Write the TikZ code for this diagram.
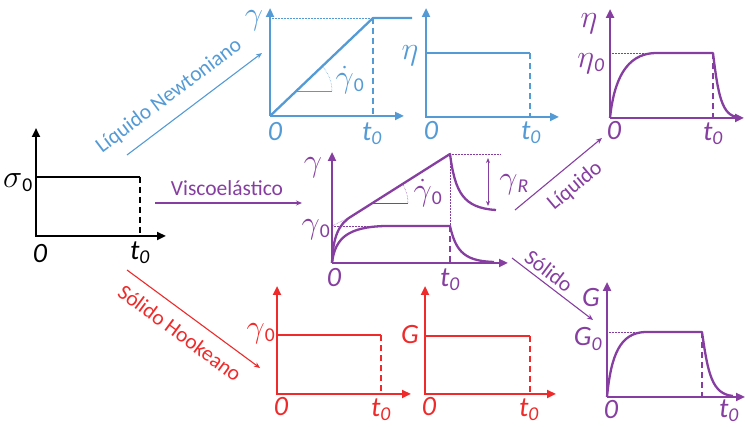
\documentclass[tikz,border=0pt]{standalone}
\usepackage{fontspec}
\setmainfont{Carlito}
\usetikzlibrary{arrows.meta}
\definecolor{cblue}{RGB}{84,155,214}
\definecolor{cpurp}{RGB}{134,62,160}
\definecolor{cred}{RGB}{238,42,42}
\tikzset{
  axis/.style={line width=2.6pt,-{Triangle[length=9pt,width=8pt]}},
  dataline/.style={line width=2.3pt,line join=round},
  dropline/.style={line width=1.6pt,dash pattern=on 6pt off 4pt},
  guide/.style={line width=0.5pt,densely dotted},
  flow/.style={line width=1.1pt,-{Stealth[length=6pt,width=5pt]}},
  lbl/.style={inner sep=0pt,font=\fontsize{28}{32}\selectfont},
  flowtxt/.style={inner sep=0pt,font=\fontsize{21.5}{25}\selectfont},
}
\newcommand{\tz}{\textit{t}\textsubscript{\textit{0}}}
\newcommand{\zr}{\textit{0}}
\newcommand{\gk}[1]{\scalebox{1.3}{$#1$}}
\begin{document}
\begin{tikzpicture}[x=1pt,y=-1pt]
\useasboundingbox (0,0) rectangle (745,427);
% ---------------- black input chart ----------------
\coordinate (bo) at (36,236);
\coordinate (by) at (36,128);
\coordinate (bx) at (166,236);
\coordinate (bs) at (36,177);
\coordinate (be) at (140,177);
\coordinate (bd) at (140,236);
\draw[axis,black] (bd) -- (bo) -- (by);
\draw[axis,black] (bo) -- (bx);
\draw[dataline,black] (bs) -- (be);
\draw[dropline,black] (be) -- (bd);
\node[lbl] (bsig) at (18,183) {\gk{\sigma}\textsubscript{0}};
\node[lbl] (bzero) at (40,254) {\zr};
\node[lbl] (bt) at (140,253) {\tz};
% ---------------- blue Newtonian gamma chart ----------------
\begin{scope}[cblue]
\coordinate (no) at (270,116);
\coordinate (ny) at (270,8);
\coordinate (nx) at (404,116);
\coordinate (nt) at (373,18);
\coordinate (ntb) at (373,116);
\coordinate (nend) at (412,18);
\coordinate (nyl) at (270,18);
\coordinate (na) at (296,91);
\draw[axis] (no) -- (ny);
\draw[axis] (no) -- (nx);
\draw[dataline] (no) -- (nt) -- (nend);
\draw[dropline] (nt) -- (ntb);
\draw[guide] (nyl) -- (nt);
\draw[line width=0.5pt] (na) -- ++(36,0) coordinate (nb);
\draw[guide] (nb) arc[start angle=0,end angle=-43.6,radius=36];
\node[lbl] (ngam) at (254,21) {\gk{\gamma}};
\node[lbl] (ngd) at (350,80) {\gk{\dot\gamma}\textsubscript{0}};
\node[lbl] (nzero) at (275,132) {\zr};
\node[lbl] (nt0) at (372,134) {\tz};
% eta chart
\coordinate (eo) at (426,117);
\coordinate (ey) at (426,8);
\coordinate (ex) at (559,117);
\coordinate (es) at (426,53);
\coordinate (ee) at (530,53);
\coordinate (ed) at (530,117);
\draw[axis] (ed) -- (eo) -- (ey);
\draw[axis] (eo) -- (ex);
\draw[dataline] (es) -- (ee);
\draw[dropline] (ee) -- (ed);
\node[lbl] (eeta) at (410,56) {\gk{\eta}};
\node[lbl] (ezero) at (431,131) {\zr};
\node[lbl] (et0) at (531,133) {\tz};
% label arrow
\coordinate (nf1) at (127,155);
\coordinate (nf2) at (262,53);
\draw[flow] (nf1) -- (nf2);
\node[flowtxt,rotate=37] (nlab) at (169,96) {Líquido Newtoniano};
\end{scope}
% ---------------- purple charts ----------------
\begin{scope}[cpurp]
% viscoelastic
\coordinate (vo) at (332,263);
\coordinate (vy) at (332,152);
\coordinate (vx) at (508,263);
\coordinate (vk) at (352,216);
\coordinate (vt) at (450,154);
\coordinate (vtb) at (450,263);
\coordinate (vl) at (450,226);
\coordinate (vg0) at (332,226);
\draw[axis] (vo) -- (vy);
\draw[axis] (vo) -- (vx);
\draw[dataline] (vo) .. controls (333,238) and (338,224) .. (vk) -- (vt)
  .. controls (455,192) and (463,208) .. (496,210);
\draw[dataline] (vo) .. controls (335,238) and (348,227) .. (385,226) -- (vl)
  .. controls (456,253) and (466,261) .. (494,262);
\draw[dropline] (vl) -- (vtb);
\draw[guide] (vt) -- (vl);
\draw[guide] (vt) -- (501,154);
\draw[guide] (vg0) -- (385,226);
\draw[guide] (vg0) -- (vk);
\draw[line width=0.5pt] (373,203) -- ++(35,0) coordinate (vb);
\draw[guide] (vb) arc[start angle=0,end angle=-32,radius=35];
\coordinate (gr1) at (488,158);
\coordinate (gr2) at (488,206);
\draw[line width=0.9pt,{Stealth[length=5pt,width=4pt]}-{Stealth[length=5pt,width=4pt]}] (gr1) -- (gr2);
\node[lbl] (vgam) at (313,168) {\gk{\gamma}};
\node[lbl] (vgam0) at (316,230) {\gk{\gamma}\textsubscript{0}};
\node[lbl] (vgd) at (428,193) {\gk{\dot\gamma}\textsubscript{0}};
\node[lbl] (vgr) at (514,185) {\gk{\gamma}\textsubscript{\textit{R}}};
\node[lbl] (vzero) at (334,278) {\zr};
\node[lbl] (vt0) at (450,280) {\tz};
% eta liquid chart
\coordinate (lo) at (610,118);
\coordinate (ly) at (610,9);
\coordinate (lx) at (744,118);
\coordinate (lp) at (713,53);
\coordinate (lpb) at (713,118);
\coordinate (lyl) at (610,53);
\draw[axis] (lo) -- (ly);
\draw[axis] (lo) -- (lx);
\draw[dataline] (lo) .. controls (614,80) and (626,54) .. (655,53) -- (lp)
  .. controls (718,95) and (722,116) .. (738,117);
\draw[dropline] (lp) -- (lpb);
\draw[guide] (lyl) -- (655,53);
\node[lbl] (leta) at (589,24) {\gk{\eta}};
\node[lbl] (leta0) at (591,64) {\gk{\eta}\textsubscript{\textit{0}}};
\node[lbl] (lzero) at (614,131) {\zr};
\node[lbl] (lt0) at (713,134) {\tz};
% G solid chart
\coordinate (so) at (607,397);
\coordinate (sy) at (607,282);
\coordinate (sx) at (745,397);
\coordinate (sp) at (702,332);
\coordinate (spb) at (702,397);
\coordinate (syl) at (607,332);
\draw[axis] (so) -- (sy);
\draw[axis] (so) -- (sx);
\draw[dataline] (so) .. controls (611,355) and (620,333) .. (645,332) -- (sp)
  .. controls (708,374) and (712,394) .. (733,396);
\draw[dropline] (sp) -- (spb);
\draw[guide] (syl) -- (645,332);
\node[lbl] (sG) at (591,298) {\textit{G}};
\node[lbl] (sG0) at (588,339) {\textit{G}\textsubscript{\textit{0}}};
\node[lbl] (szero) at (611,410) {\zr};
\node[lbl] (st0) at (729,411) {\tz};
% flow arrows
\coordinate (vf1) at (155,203);
\coordinate (vf2) at (302,203);
\draw[flow] (vf1) -- (vf2);
\node[flowtxt] (vlab) at (227,188) {Viscoelástico};
\coordinate (lf1) at (515,210);
\coordinate (lf2) at (602,138);
\draw[flow] (lf1) -- (lf2);
\node[flowtxt,rotate=40] (llab) at (575,186) {Líquido};
\coordinate (sf1) at (512,258);
\coordinate (sf2) at (593,320);
\draw[flow] (sf1) -- (sf2);
\node[flowtxt,rotate=-37] (slab) at (549,271) {Sólido};
\end{scope}
% ---------------- red charts ----------------
\begin{scope}[cred]
\coordinate (ho) at (277,394);
\coordinate (hy) at (277,286);
\coordinate (hx) at (411,394);
\coordinate (hs) at (277,335);
\coordinate (he) at (381,335);
\coordinate (hd) at (381,394);
\draw[axis] (hd) -- (ho) -- (hy);
\draw[axis] (ho) -- (hx);
\draw[dataline] (hs) -- (he);
\draw[dropline] (he) -- (hd);
\node[lbl] (hgam) at (261,334) {\gk{\gamma}\textsubscript{0}};
\node[lbl] (hzero) at (281,407) {\zr};
\node[lbl] (ht0) at (381,410) {\tz};
\coordinate (go) at (425,394);
\coordinate (gy) at (425,286);
\coordinate (gx) at (556,394);
\coordinate (gs) at (425,336);
\coordinate (ge) at (530,336);
\coordinate (gd) at (530,394);
\draw[axis] (gd) -- (go) -- (gy);
\draw[axis] (go) -- (gx);
\draw[dataline] (gs) -- (ge);
\draw[dropline] (ge) -- (gd);
\node[lbl] (gG) at (410,335) {\textit{G}};
\node[lbl] (gzero) at (429,407) {\zr};
\node[lbl] (gt0) at (529,410) {\tz};
\coordinate (hf1) at (127,270);
\coordinate (hf2) at (260,368);
\draw[flow] (hf1) -- (hf2);
\node[flowtxt,rotate=-36.4] (hlab) at (180,333) {Sólido Hookeano};
\end{scope}
\end{tikzpicture}
\end{document}
